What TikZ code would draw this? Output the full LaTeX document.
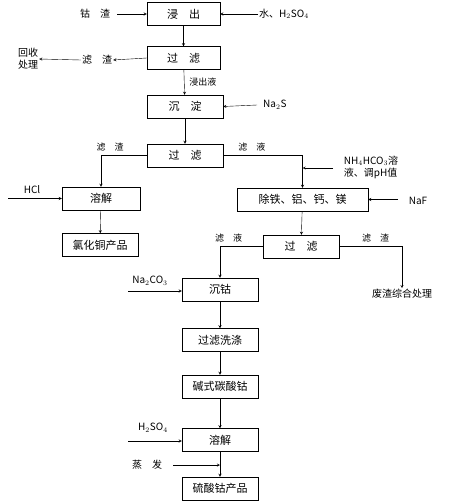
\documentclass[tikz,border=0pt]{standalone}
\usepackage{fontspec}
\setmainfont{Liberation Serif}
\newfontfamily\cjk{Noto Sans CJK SC}
\usepackage{tikz}
\usetikzlibrary{arrows,positioning}
\tikzstyle{process} = [rectangle, draw=black, minimum width=76pt, minimum height=23pt, inner sep=1pt, font=\cjk\fontsize{11}{13}\selectfont]
\tikzstyle{feed} = [inner sep=1pt, font=\cjk\fontsize{10}{12}\selectfont, align=center]
\tikzstyle{tag} = [inner sep=1pt, font=\cjk\fontsize{9}{11}\selectfont]
\tikzstyle{arrow} = [->,>=stealth]

\begin{document}
\begin{tikzpicture}[x=1pt,y=-1pt]
\useasboundingbox (0,0) rectangle (448,503);
% main column, top part
\node (leach) [process, minimum width=73pt] at (183.5,14) {浸\quad 出};
\node (filt1) [process, minimum width=73pt] at (183.5,58) {过\quad 滤};
\node (precip) [process, minimum width=76pt] at (185,106.5) {沉\quad 淀};
\node (filt2) [process, minimum width=76pt] at (185,155.5) {过\quad 滤};
% left branch
\node (dissolve) [process, minimum width=78pt] at (101,198.5) {溶解};
\node (cuprod) [process, minimum width=76pt] at (100,245) {氯化铜产品};
% right branch
\node (removal) [process, minimum width=131pt] at (302.5,199.5) {除铁、铝、钙、镁};
\node (filt3) [process, minimum width=76pt] at (301,246.5) {过\quad 滤};
% cobalt column
\node (cosink) [process] at (220,289.5) {沉钴};
\node (wash) [process] at (220,340) {过滤洗涤};
\node (basic) [process] at (220,386.5) {碱式碳酸钴};
\node (dissolve2) [process] at (220,440) {溶解};
\node (coprod) [process] at (220,488.5) {硫酸钴产品};

% feeds
\node (slag) [feed] at (95,14) {钴\quad 渣};
\node (acid) [feed, anchor=west] at (258,14) {水、H$_2$SO$_4$};
\node (residue) [feed] at (97,60) {滤\quad 渣};
\node (recycle) [feed] at (28,59) {回收\\处理};
\node (sulfide) [feed, anchor=west] at (262,105) {Na$_2$S};
\node (ammon) [feed, align=left] at (371,167) {NH$_4$HCO$_3$溶\\液、调pH值};
\node (hcl) [feed] at (32,190) {HCl};
\node (fluor) [feed] at (418,201) {NaF};
\node (waste) [feed] at (402,294) {废渣综合处理};
\node (carb) [feed] at (150,281) {Na$_2$CO$_3$};
\node (sulf) [feed] at (153,428) {H$_2$SO$_4$};
\node (evap) [feed] at (147,465) {蒸\quad 发};

% connectors
\draw[arrow] (slag.east) ++(6,0) -- (leach.west);
\draw[arrow] (acid.west) -- (leach.east);
\draw[arrow] (leach) -- (filt1);
\draw[arrow] (filt1.west) -- (residue.east);
\draw[arrow] (residue.west) -- (recycle.east);
\draw[arrow] (filt1) -- node[tag, right, xshift=4pt] {浸出液} (precip);
\draw[arrow] (sulfide.west) ++(-5,0) -- (precip.east);
\draw[arrow] (precip) -- (filt2);
\draw[arrow] (filt2.west) -| node[tag, pos=0.4, above=3pt] {滤\quad 渣} (dissolve.north);
\draw[arrow] (filt2.east) -| node[tag, pos=0.18, above=3pt] {滤\quad 液} (removal.north);
\coordinate (ammonin) at (333,168);
\draw[arrow] (ammonin) -- (ammonin -| removal.north);
\coordinate (hclin) at (8,198.5);
\draw[arrow] (hclin) -- (dissolve.west);
\draw[arrow] (dissolve) -- (cuprod);
\coordinate (fluorin) at (398,199.5);
\draw[arrow] (fluorin) -- (removal.east);
\draw[arrow] (removal) -- (filt3);
\draw[arrow] (filt3.west) -| node[tag, pos=0.4, above=3pt] {滤\quad 液} (cosink.north);
\draw[arrow] (filt3.east) -| node[tag, pos=0.29, above=3pt] {滤\quad 渣} (waste.north);
\coordinate (carbin) at (128,291);
\draw[arrow] (carbin) -- (carbin -| cosink.west);
\draw[arrow] (cosink) -- (wash);
\draw[arrow] (wash) -- (basic);
\draw[arrow] (basic) -- (dissolve2);
\coordinate (sulfin) at (128,441);
\draw[arrow] (sulfin) -- (sulfin -| dissolve2.west);
\draw[arrow] (dissolve2) -- (coprod);
\draw[arrow] (evap.east) ++(10,0) -- (dissolve2.south |- evap);
\end{tikzpicture}
\end{document}
